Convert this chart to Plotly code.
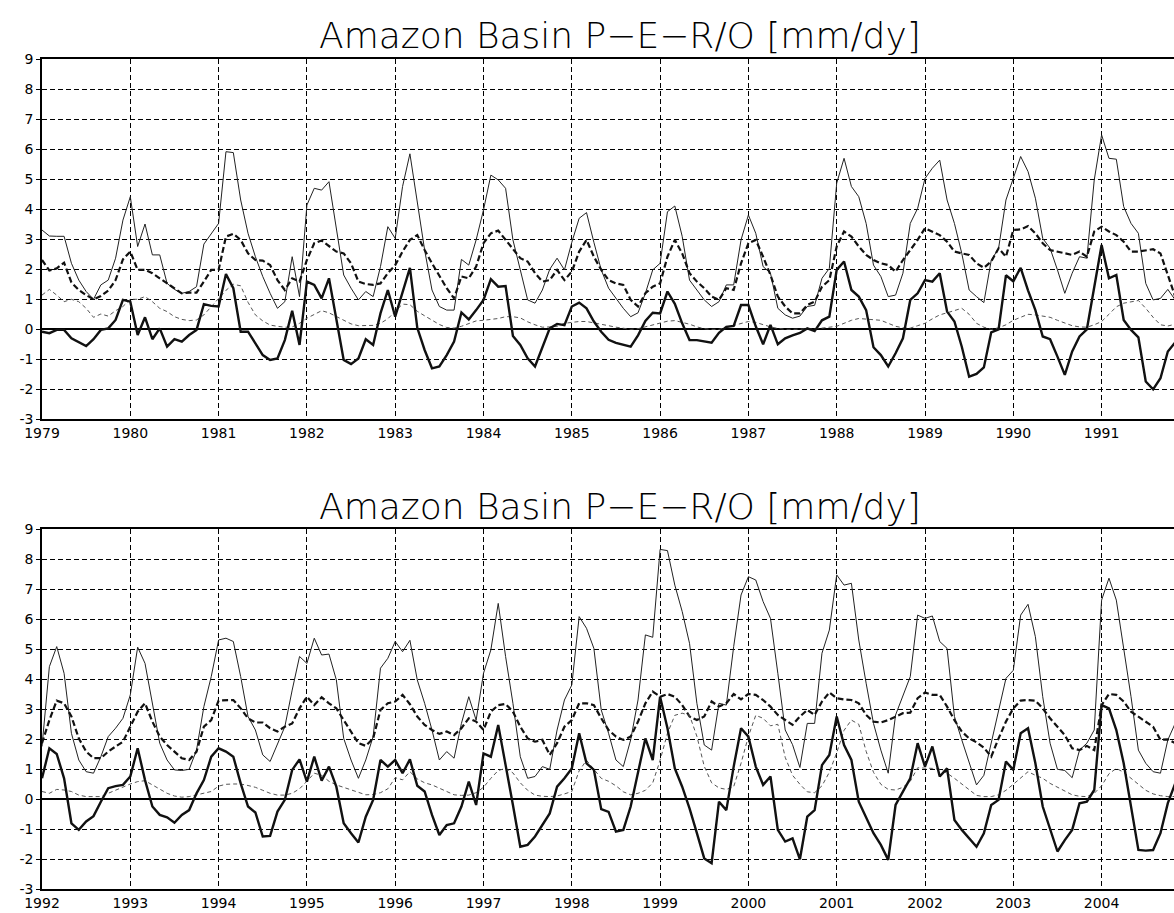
import plotly.graph_objects as go

# ---------------- data (monthly, mm/dy) ----------------
years_top = list(range(1979, 1992))
years_bot = list(range(1992, 2005))
y_ticks = list(range(-3, 10))

# Top panel 1979-1991
P_top = [
    3.31, 3.11, 3.10, 3.10, 2.20, 1.64, 1.26, 1.00, 1.48, 1.64, 2.37, 3.64,
    4.42, 2.76, 3.51, 2.48, 2.48, 1.53, 1.33, 1.20, 1.26, 1.42, 2.84, 3.20,
    3.53, 5.92, 5.89, 4.31, 3.20, 2.42, 1.76, 1.20, 0.70, 0.92, 2.42, 1.09,
    4.14, 4.70, 4.64, 4.92, 3.42, 1.81, 1.37, 0.98, 1.26, 1.09, 2.09, 3.42,
    3.03, 4.76, 5.85, 4.25, 2.64, 1.31, 0.76, 0.64, 0.64, 2.33, 2.14, 2.98,
    3.98, 5.14, 4.98, 4.70, 2.98, 1.98, 0.98, 0.87, 1.31, 2.00, 2.37, 1.98,
    2.90, 3.70, 3.89, 2.90, 1.98, 1.37, 1.03, 0.70, 0.42, 0.55, 1.20, 1.98,
    2.20, 3.92, 4.11, 3.10, 1.64, 1.31, 0.98, 0.76, 0.92, 1.48, 1.48, 2.98,
    3.81, 3.20, 2.09, 1.87, 0.70, 0.48, 0.37, 0.44, 0.76, 0.80, 1.70, 2.03,
    4.87, 5.70, 4.76, 4.42, 3.53, 2.14, 1.76, 1.09, 1.14, 1.87, 3.53, 4.03,
    5.03, 5.37, 5.64, 4.31, 3.53, 2.53, 1.31, 1.09, 0.89, 2.30, 2.70, 4.31,
    5.03, 5.76, 5.26, 4.37, 3.03, 2.70, 1.98, 1.20, 1.87, 2.42, 2.37, 4.98,
    6.48, 5.70, 5.67, 4.09, 3.53, 3.20, 1.53, 0.98, 1.03, 1.33, 0.98, 1.20,
]
E_top = [
    2.31, 1.96, 2.03, 2.22, 1.56, 1.31, 1.14, 1.00, 1.11, 1.29, 1.64, 2.33,
    2.59, 1.98, 1.98, 1.87, 1.70, 1.53, 1.37, 1.20, 1.22, 1.22, 1.59, 1.98,
    1.98, 3.09, 3.18, 2.98, 2.53, 2.31, 2.29, 2.14, 1.64, 1.31, 1.70, 1.59,
    2.31, 2.87, 2.96, 2.76, 2.59, 2.53, 2.20, 1.59, 1.51, 1.48, 1.53, 1.87,
    2.14, 2.59, 2.98, 3.14, 2.64, 2.20, 1.76, 1.37, 1.03, 1.76, 1.70, 2.09,
    2.87, 3.20, 3.29, 2.98, 2.64, 2.37, 2.26, 1.87, 1.59, 1.64, 1.98, 1.64,
    1.92, 2.59, 2.98, 2.42, 1.98, 1.64, 1.53, 1.48, 0.98, 0.76, 1.20, 1.42,
    1.53, 2.42, 2.98, 2.53, 1.87, 1.59, 1.37, 1.09, 0.98, 1.37, 1.31, 2.20,
    2.87, 2.98, 2.42, 1.81, 1.09, 0.76, 0.53, 0.53, 0.81, 0.92, 1.42, 1.64,
    2.76, 3.26, 3.09, 2.76, 2.48, 2.31, 2.20, 2.14, 1.92, 2.31, 2.64, 2.98,
    3.37, 3.26, 3.14, 2.92, 2.59, 2.53, 2.48, 2.20, 2.05, 2.26, 2.70, 2.42,
    3.31, 3.33, 3.44, 3.20, 2.87, 2.64, 2.59, 2.53, 2.48, 2.59, 2.42, 3.26,
    3.42, 3.26, 3.14, 2.92, 2.59, 2.59, 2.64, 2.67, 2.53, 1.81, 1.09, 1.00,
]
R_top = [
    1.14, 1.33, 1.14, 0.92, 1.00, 0.92, 0.70, 0.40, 0.51, 0.44, 0.62, 0.76,
    1.00, 1.00, 1.09, 0.92, 0.70, 0.59, 0.42, 0.33, 0.29, 0.31, 0.48, 0.76,
    1.03, 1.30, 1.50, 1.45, 0.90, 0.48, 0.28, 0.14, 0.10, 0.07, 0.08, 0.20,
    0.37, 0.50, 0.62, 0.55, 0.42, 0.30, 0.18, 0.12, 0.12, 0.13, 0.20, 0.35,
    0.60, 0.84, 0.82, 0.60, 0.45, 0.30, 0.16, 0.06, 0.04, 0.10, 0.20, 0.28,
    0.30, 0.33, 0.36, 0.42, 0.42, 0.38, 0.25, 0.15, 0.07, 0.08, 0.10, 0.20,
    0.24, 0.26, 0.26, 0.22, 0.17, 0.12, 0.07, 0.03, 0.00, 0.02, 0.08, 0.15,
    0.22, 0.27, 0.29, 0.24, 0.17, 0.08, 0.02, 0.00, 0.00, 0.06, 0.12, 0.20,
    0.26, 0.23, 0.15, 0.08, 0.03, 0.00, 0.00, 0.00, 0.00, 0.02, 0.04, 0.06,
    0.10, 0.20, 0.30, 0.36, 0.34, 0.31, 0.30, 0.20, 0.10, 0.05, 0.04, 0.12,
    0.20, 0.35, 0.48, 0.55, 0.62, 0.70, 0.50, 0.20, 0.07, 0.00, 0.05, 0.15,
    0.30, 0.40, 0.50, 0.48, 0.44, 0.40, 0.30, 0.20, 0.12, 0.08, 0.07, 0.15,
    0.26, 0.50, 0.75, 0.87, 0.92, 0.96, 0.70, 0.40, 0.15, 0.11, 0.17, 0.20,
]
D_top = [
    -0.08, -0.13, -0.02, -0.02, -0.30, -0.44, -0.56, -0.33, -0.02, 0.03, 0.31, 0.98,
    0.92, -0.19, 0.40, -0.33, 0.03, -0.58, -0.33, -0.41, -0.19, -0.02, 0.84, 0.78,
    0.76, 1.84, 1.37, -0.08, -0.08, -0.47, -0.86, -1.02, -0.97, -0.36, 0.62, -0.52,
    1.59, 1.48, 1.03, 1.70, 0.31, -1.02, -1.16, -0.97, -0.33, -0.52, 0.53, 1.31,
    0.42, 1.26, 2.05, 0.05, -0.69, -1.30, -1.24, -0.86, -0.41, 0.56, 0.33, 0.64,
    0.98, 1.67, 1.42, 1.44, -0.22, -0.52, -0.97, -1.24, -0.63, 0.03, 0.18, 0.14,
    0.76, 0.89, 0.70, 0.26, -0.08, -0.35, -0.45, -0.52, -0.58, -0.20, 0.28, 0.55,
    0.53, 1.26, 0.85, 0.20, -0.36, -0.36, -0.40, -0.45, -0.12, 0.08, 0.11, 0.81,
    0.81, 0.10, -0.50, 0.15, -0.50, -0.30, -0.20, -0.12, 0.03, -0.06, 0.30, 0.42,
    1.98, 2.26, 1.31, 1.09, 0.64, -0.60, -0.86, -1.24, -0.80, -0.30, 0.98, 1.20,
    1.64, 1.59, 1.87, 0.59, 0.26, -0.58, -1.58, -1.49, -1.27, -0.10, 0.00, 1.80,
    1.60, 2.05, 1.30, 0.64, -0.24, -0.33, -0.91, -1.52, -0.74, -0.24, 0.00, 1.42,
    2.81, 1.70, 1.81, 0.31, -0.02, -0.27, -1.74, -2.00, -1.63, -0.74, -0.44, -0.30,
]

# Bottom panel 1992-2004
P_bot = [
    1.76, 4.42, 5.09, 4.20, 2.20, 1.31, 0.92, 0.87, 1.42, 2.09, 2.37, 2.70,
    3.48, 5.07, 4.53, 3.20, 1.87, 1.31, 0.98, 0.96, 1.00, 1.64, 3.09, 4.09,
    5.31, 5.37, 5.26, 4.09, 2.76, 2.31, 1.48, 1.26, 1.87, 2.42, 3.64, 4.76,
    4.53, 5.37, 4.81, 4.84, 3.98, 2.03, 1.31, 0.70, 1.31, 2.09, 4.37, 4.70,
    5.26, 4.92, 5.30, 3.98, 3.20, 2.31, 1.31, 1.59, 1.37, 2.53, 3.42, 2.64,
    4.20, 4.98, 6.53, 4.76, 3.20, 1.42, 0.70, 0.76, 1.09, 1.00, 2.31, 3.31,
    3.81, 6.09, 5.70, 5.03, 2.98, 2.20, 1.31, 1.09, 1.98, 3.31, 5.48, 5.40,
    8.33, 8.29, 7.14, 6.26, 5.20, 3.20, 1.81, 1.64, 3.20, 3.14, 5.09, 6.81,
    7.42, 7.31, 6.59, 6.03, 4.20, 2.31, 1.82, 1.06, 2.53, 2.53, 4.87, 5.64,
    7.48, 7.14, 7.20, 5.31, 3.87, 2.53, 1.64, 0.87, 2.81, 3.42, 4.09, 6.14,
    6.03, 6.11, 5.26, 5.03, 2.76, 1.98, 1.20, 0.48, 0.80, 1.90, 2.90, 4.03,
    4.30, 6.14, 6.50, 5.42, 3.42, 1.87, 1.00, 0.96, 0.72, 1.64, 1.87, 2.31,
    6.64, 7.37, 6.64, 5.09, 3.42, 1.64, 1.20, 0.92, 0.87, 1.98, 2.53, 2.70,
]
E_bot = [
    1.87, 2.64, 3.29, 3.20, 2.76, 2.03, 1.59, 1.37, 1.37, 1.59, 1.76, 1.92,
    2.42, 2.92, 3.20, 2.59, 2.09, 1.81, 1.59, 1.37, 1.31, 1.59, 2.42, 2.64,
    3.29, 3.30, 3.31, 3.03, 2.70, 2.56, 2.56, 2.37, 2.26, 2.42, 2.53, 3.03,
    3.42, 3.14, 3.40, 3.20, 3.03, 2.64, 2.26, 1.87, 1.78, 2.03, 2.98, 3.20,
    3.26, 3.48, 3.17, 2.76, 2.48, 2.31, 2.18, 2.26, 2.14, 2.37, 2.70, 2.59,
    2.31, 2.92, 3.14, 3.18, 2.92, 2.42, 2.03, 1.92, 1.98, 1.48, 1.87, 2.42,
    2.64, 3.20, 3.20, 3.14, 2.70, 2.31, 2.09, 1.98, 2.09, 2.59, 3.20, 3.59,
    3.42, 3.51, 3.42, 3.14, 2.76, 2.64, 2.76, 3.26, 3.09, 3.20, 3.51, 3.33,
    3.51, 3.48, 3.31, 3.09, 2.81, 2.64, 2.48, 2.76, 2.98, 2.81, 3.26, 3.56,
    3.37, 3.33, 3.31, 3.20, 2.81, 2.59, 2.56, 2.64, 2.76, 2.87, 2.89, 3.37,
    3.56, 3.48, 3.48, 3.09, 2.64, 2.26, 2.03, 1.90, 1.72, 1.42, 2.03, 2.59,
    3.03, 3.29, 3.31, 3.29, 3.03, 2.70, 2.42, 2.14, 1.70, 1.64, 1.78, 1.64,
    3.14, 3.51, 3.48, 3.26, 2.92, 2.76, 2.59, 2.42, 1.98, 2.00, 1.87, 1.90,
]
R_bot = [
    0.26, 0.20, 0.33, 0.31, 0.26, 0.14, 0.09, 0.09, 0.09, 0.20, 0.31, 0.40,
    0.51, 0.59, 0.62, 0.48, 0.33, 0.20, 0.11, 0.07, 0.09, 0.14, 0.20, 0.26,
    0.44, 0.50, 0.51, 0.51, 0.46, 0.40, 0.30, 0.20, 0.14, 0.14, 0.20, 0.35,
    0.60, 0.87, 0.80, 0.60, 0.48, 0.40, 0.30, 0.22, 0.15, 0.16, 0.22, 0.35,
    0.72, 0.65, 0.92, 0.68, 0.55, 0.48, 0.37, 0.25, 0.15, 0.13, 0.14, 0.22,
    0.40, 0.70, 0.96, 1.03, 0.88, 0.55, 0.30, 0.14, 0.10, 0.09, 0.11, 0.18,
    0.26, 0.95, 1.30, 1.00, 0.70, 0.60, 0.45, 0.25, 0.15, 0.20, 0.30, 0.55,
    1.30, 2.20, 2.80, 2.87, 2.80, 2.10, 1.10, 0.55, 0.38, 0.33, 0.42, 1.20,
    2.10, 2.80, 2.70, 2.45, 2.50, 1.40, 0.80, 0.50, 0.25, 0.22, 0.45, 0.90,
    1.55, 2.30, 2.64, 2.50, 1.60, 0.90, 0.50, 0.33, 0.31, 0.40, 0.60, 1.05,
    1.05, 1.03, 1.00, 0.87, 0.70, 0.50, 0.30, 0.13, 0.09, 0.09, 0.15, 0.30,
    0.50, 0.70, 0.92, 0.80, 0.70, 0.53, 0.40, 0.28, 0.15, 0.10, 0.09, 0.20,
    0.45, 0.85, 1.03, 0.90, 0.70, 0.50, 0.30, 0.18, 0.12, 0.09, 0.09, 0.10,
]
D_bot = [
    0.70, 1.70, 1.51, 0.70, -0.80, -1.02, -0.74, -0.56, -0.08, 0.37, 0.44, 0.48,
    0.76, 1.70, 0.64, -0.24, -0.52, -0.60, -0.78, -0.52, -0.36, 0.20, 0.64, 1.42,
    1.70, 1.59, 1.42, 0.53, -0.24, -0.44, -1.24, -1.22, -0.41, -0.02, 0.98, 1.33,
    0.59, 1.42, 0.62, 1.09, 0.42, -0.80, -1.13, -1.44, -0.58, -0.02, 1.31, 1.09,
    1.31, 0.87, 1.33, 0.45, 0.26, -0.52, -1.19, -0.86, -0.80, -0.24, 0.59, -0.19,
    1.53, 1.42, 2.48, 1.20, -0.19, -1.58, -1.52, -1.24, -0.86, -0.47, 0.42, 0.70,
    1.03, 2.20, 1.20, 0.98, -0.33, -0.42, -1.08, -1.02, -0.24, 0.87, 2.03, 1.31,
    3.42, 2.37, 1.03, 0.42, -0.30, -1.13, -1.97, -2.13, -0.08, -0.36, 1.09, 2.37,
    2.09, 1.09, 0.48, 0.76, -1.02, -1.41, -1.30, -2.00, -0.58, -0.36, 1.14, 1.48,
    2.76, 1.81, 1.31, -0.08, -0.58, -1.13, -1.52, -2.02, -0.19, 0.26, 0.70, 1.87,
    1.09, 1.76, 0.76, 1.03, -0.69, -1.02, -1.30, -1.58, -1.13, -0.19, -0.02, 1.26,
    0.98, 2.20, 2.37, 1.20, -0.24, -0.97, -1.74, -1.36, -1.02, -0.13, -0.08, 0.31,
    3.14, 3.03, 2.31, 1.20, -0.24, -1.69, -1.71, -1.69, -1.13, -0.13, 0.53, 0.80,
]

TITLE = "Amazon Basin P\u2212E\u2212R/O [mm/dy]"

# ---------------- figure ----------------
W, H = 1174, 913
LEFT = 42


def months(start_year, n):
    return [start_year + k / 12.0 for k in range(n)]


x_top = months(years_top[0], len(P_top))
x_bot = months(years_bot[0], len(P_bot))

series_style = [
    dict(width=1.0, dash="solid", color="#222"),          # P
    dict(width=2.2, dash="6px,3px", color="#111"),        # E
    dict(width=1.0, dash="4px,3px", color="#555"),        # R/O
    dict(width=2.4, dash="solid", color="#111"),          # P-E-R/O
]

fig = go.Figure()
for xa, ya, xs, data in [("x", "y", x_top, [P_top, E_top, R_top, D_top]),
                          ("x2", "y2", x_bot, [P_bot, E_bot, R_bot, D_bot])]:
    for vals, st in zip(data, series_style):
        fig.add_trace(go.Scatter(x=xs, y=vals, mode="lines", line=st,
                                 xaxis=xa, yaxis=ya, showlegend=False,
                                 hoverinfo="skip"))

px_per_year = 88.3
span = (W - LEFT) / px_per_year

tick_font = dict(family="DejaVu Sans", size=14, color="black")
GRID_DASH = "5px,3px"


def xaxis_cfg(y0, anchor):
    return dict(
        domain=[0, 1], anchor=anchor,
        range=[y0, y0 + span],
        tickmode="array", tickvals=list(range(y0, y0 + 13)),
        ticktext=[str(v) for v in range(y0, y0 + 13)],
        showgrid=True, gridcolor="black", griddash=GRID_DASH, gridwidth=1.3,
        showline=True, linecolor="black", linewidth=1.6, mirror=True,
        ticks="", zeroline=False, tickfont=tick_font, automargin=False,
    )


def yaxis_cfg(dom, anchor):
    return dict(
        domain=dom, anchor=anchor, range=[-3, 9],
        tickmode="array", tickvals=y_ticks,
        ticktext=[str(v) for v in y_ticks],
        showgrid=True, gridcolor="black", griddash=GRID_DASH, gridwidth=1.3,
        showline=True, linecolor="black", linewidth=1.6,
        zeroline=True, zerolinecolor="black", zerolinewidth=1.7,
        ticks="outside", ticklen=4, tickcolor="black",
        tickfont=tick_font, automargin=False,
    )


top_dom = [1 - 419.3 / H, 1 - 59.3 / H]
bot_dom = [1 - 889.3 / H, 1 - 529.3 / H]

title_font = dict(family="DejaVu Sans ExtraLight, DejaVu Sans", size=36,
                  color="black", weight=200)
tx = (620 - LEFT) / (W - LEFT)

fig.update_layout(
    width=W, height=H,
    margin=dict(l=LEFT, r=0, t=0, b=0),
    paper_bgcolor="white", plot_bgcolor="white",
    xaxis=xaxis_cfg(years_top[0], "y"),
    yaxis=yaxis_cfg(top_dom, "x"),
    xaxis2=xaxis_cfg(years_bot[0], "y2"),
    yaxis2=yaxis_cfg(bot_dom, "x2"),
    annotations=[
        dict(text=TITLE, x=tx, y=1 - 36 / H, xref="paper", yref="paper",
             xanchor="center", yanchor="middle", showarrow=False, font=title_font),
        dict(text=TITLE, x=tx, y=1 - 506 / H, xref="paper", yref="paper",
             xanchor="center", yanchor="middle", showarrow=False, font=title_font),
    ],
)

fig.write_html("out.html")
